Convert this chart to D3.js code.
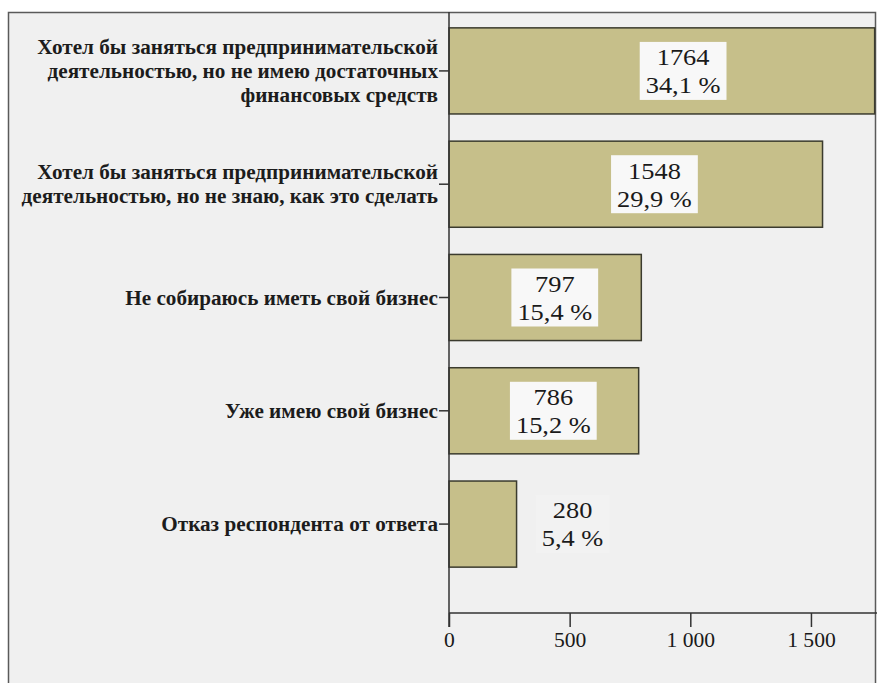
<!DOCTYPE html>
<html><head><meta charset="utf-8">
<script src="https://cdn.jsdelivr.net/npm/d3@7"></script>
<style>html,body{margin:0;padding:0;background:#fff;}svg{display:block;}</style>
</head><body>
<script>
const categories = [
  "Хотел бы заняться предпринимательской\nдеятельностью, но не имею достаточных\nфинансовых средств",
  "Хотел бы заняться предпринимательской\nдеятельностью, но не знаю, как это сделать",
  "Не собираюсь иметь свой бизнес",
  "Уже имею свой бизнес",
  "Отказ респондента от ответа"
];
const counts = [1764, 1548, 797, 786, 280];
const percents = ["34,1 %", "29,9 %", "15,4 %", "15,2 %", "5,4 %"];
const xTicks = [0, 500, 1000, 1500];

const W = 877, H = 683;
const svg = d3.select("body").append("svg").attr("width", W).attr("height", H);
svg.append("rect").attr("width", W).attr("height", H).attr("fill", "#ffffff");
// frame
svg.append("rect").attr("x", 8.5).attr("y", 12.5).attr("width", 867).attr("height", 680)
  .attr("fill", "#f0f0f0").attr("stroke", "#5a5a5a").attr("stroke-width", 1.5);

const x0 = 449, axisY = 613;
const x = d3.scaleLinear().domain([0, 1800]).range([x0, x0 + 1800 * 0.2413]);
const y = d3.scaleBand().domain(categories).range([12, 583]).paddingInner(0.24).paddingOuter(0.14);

const font = "Liberation Serif";

// bars
svg.selectAll("rect.bar").data(counts).join("rect").attr("class", "bar")
  .attr("x", x(0)).attr("y", (d, i) => y(categories[i]))
  .attr("width", d => x(d) - x(0)).attr("height", y.bandwidth())
  .attr("fill", "#c6bf8a").attr("stroke", "#3b3b2e").attr("stroke-width", 1.5);

// axes
const xAxis = d3.axisBottom(x).tickValues(xTicks).tickSize(14).tickPadding(6)
  .tickFormat(d => d3.format(",")(d).replace(/,/g, " "));
const gx = svg.append("g").attr("transform", `translate(0,${axisY})`).call(xAxis);
gx.select(".domain").attr("d", `M${x0},0H${W}`).attr("stroke", "#333").attr("stroke-width", 1.5);
gx.selectAll(".tick line").attr("stroke", "#333").attr("stroke-width", 1.5);
gx.selectAll(".tick text").attr("font-family", font).attr("font-size", 20).attr("fill", "#1a1a1a")
  .attr("transform", "scale(1.08,1)");

const yAxis = d3.axisLeft(y).tickSize(10).tickPadding(2).tickFormat("");
const gy = svg.append("g").attr("transform", `translate(${x0},0)`).call(yAxis);
gy.select(".domain").attr("d", `M0,12V${axisY + 14}`).attr("stroke", "#333").attr("stroke-width", 1.5);
gy.selectAll(".tick line").attr("stroke", "#333").attr("stroke-width", 1.5);

// category labels
const lh = 24;
categories.forEach(c => {
  const lines = c.split("\n");
  const cy = y(c) + y.bandwidth() / 2;
  const t = svg.append("text").attr("text-anchor", "end").attr("font-family", font)
    .attr("font-size", 20).attr("font-weight", "bold").attr("fill", "#1c1c1c")
    .attr("transform", `translate(${x0 - 11},${cy}) scale(1.06,1)`);
  lines.forEach((ln, j) => {
    t.append("tspan").attr("x", 0)
      .attr("y", (j - (lines.length - 1) / 2) * lh).attr("dy", "0.35em").text(ln);
  });
});

// value labels
counts.forEach((v, i) => {
  const cy = y(categories[i]) + y.bandwidth() / 2;
  const inside = (x(v) - x(0)) > 120;
  const cx = inside ? x(v * 0.55) : x(v) + 56;
  const g = svg.append("g").attr("transform", `translate(${cx},${cy})`);
  const box = g.append("rect");
  const t = g.append("text").attr("text-anchor", "middle").attr("font-family", font)
    .attr("font-size", 24).attr("fill", "#1a1a1a").attr("transform", "scale(1.1,1)");
  t.append("tspan").attr("x", 0).attr("y", -14).attr("dy", "0.35em").text(v);
  t.append("tspan").attr("x", 0).attr("y", 14).attr("dy", "0.35em").text(percents[i]);
  const bw = t.node().getBBox().width * 1.1;
  box.attr("x", -bw / 2 - 6).attr("y", -29).attr("width", bw + 12).attr("height", 58)
    .attr("fill", inside ? "#f8f8f8" : "#f2f2f2");
});
</script>
</body></html>
